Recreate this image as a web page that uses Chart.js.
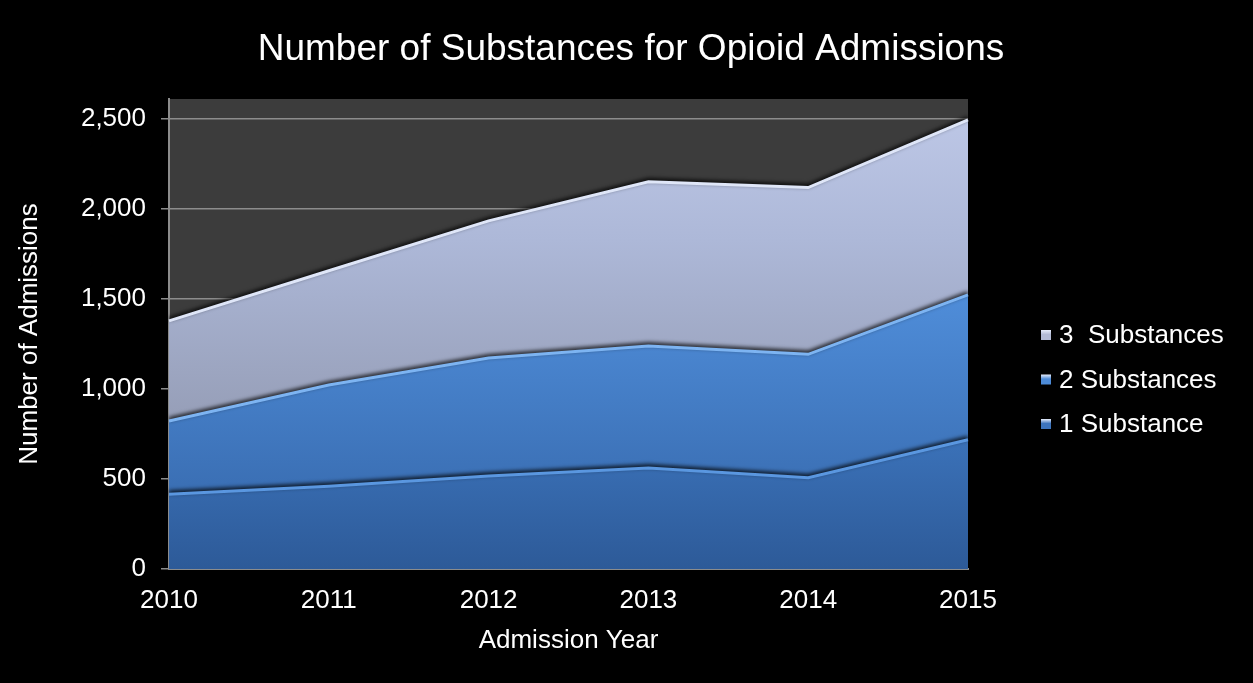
<!DOCTYPE html>
<html>
<head>
<meta charset="utf-8">
<title>Number of Substances for Opioid Admissions</title>
<script src="https://cdn.jsdelivr.net/npm/chart.js@4/dist/chart.umd.min.js"></script>
<style>
  html, body { margin: 0; padding: 0; background: #000; }
  canvas { display: block; }
</style>
</head>
<body>
<canvas id="admissionsChart" width="1253" height="683"></canvas>
<script>
const years = ['2010', '2011', '2012', '2013', '2014', '2015'];
const oneSubstance = [415, 460, 517, 561, 507, 718];
const twoSubstances = [407, 562, 655, 678, 685, 804];
const threeSubstances = [556, 634, 761, 911, 926, 972];
const yTicks = [0, 500, 1000, 1500, 2000, 2500];

const FONT = '"Liberation Sans", Arial, sans-serif';

// vertical fill gradient over the plot area
function areaGradient(stops) {
    return function (context) {
        const area = context.chart.chartArea;
        if (!area) return stops[0][1];
        const g = context.chart.ctx.createLinearGradient(0, area.top, 0, area.bottom);
        stops.forEach(s => g.addColorStop(s[0], s[1]));
        return g;
    };
}

// dark gray plot background on a black page
const plotBackground = {
    id: 'plotBackground',
    beforeDraw(chart) {
        const { ctx, chartArea: a } = chart;
        ctx.save();
        ctx.fillStyle = '#000';
        ctx.fillRect(0, 0, chart.width, chart.height);
        ctx.fillStyle = '#3c3c3c';
        ctx.fillRect(a.left, a.top, a.right - a.left, a.bottom - a.top);
        ctx.restore();
    }
};

// soft shadow above each area edge for the bevelled look
const bevelShadow = {
    id: 'bevelShadow',
    beforeDatasetsDraw(chart) {
        const ctx = chart.ctx;
        ctx.save();
        ctx.shadowColor = 'rgba(0,0,0,0.75)';
        ctx.shadowBlur = 4;
        ctx.shadowOffsetY = -2;
    },
    afterDatasetsDraw(chart) {
        chart.ctx.restore();
    }
};

// title and legend placed on the canvas
const legendSwatches = ['#3d74bd', '#4d8bd8', '#b3bbd6'];
const titleAndLegend = {
    id: 'titleAndLegend',
    afterDraw(chart) {
        const ctx = chart.ctx;
        ctx.save();
        ctx.fillStyle = '#fff';
        ctx.textAlign = 'center';
        ctx.textBaseline = 'middle';
        ctx.font = '37px ' + FONT;
        ctx.fillText('Number of Substances for Opioid Admissions', 631, 50);

        ctx.font = '26px ' + FONT;
        ctx.textAlign = 'left';
        const sets = chart.data.datasets.map((ds, i) => ({ label: ds.label, color: legendSwatches[i] })).reverse();
        sets.forEach((item, k) => {
            const y = 335 + k * 44.5;
            const g = ctx.createLinearGradient(0, y - 5, 0, y + 5);
            g.addColorStop(0, '#e8eefc');
            g.addColorStop(0.45, item.color);
            g.addColorStop(1, item.color);
            ctx.fillStyle = g;
            ctx.fillRect(1041, y - 5, 10, 10);
            ctx.fillStyle = '#fff';
            ctx.fillText(item.label, 1059, y + 1);
        });
        ctx.restore();
    }
};

const ctx = document.getElementById('admissionsChart').getContext('2d');

new Chart(ctx, {
    type: 'line',
    data: {
        labels: years,
        datasets: [{
            label: '1 Substance',
            data: oneSubstance,
            fill: 'origin',
            backgroundColor: areaGradient([[0, '#4a82cc'], [0.72, '#3b72b9'], [1, '#2d5a98']]),
            borderColor: '#5a97e0',
            borderWidth: 3
        }, {
            label: '2 Substances',
            data: twoSubstances,
            fill: '-1',
            backgroundColor: areaGradient([[0, '#5a98e4'], [0.42, '#4f8dd9'], [0.9, '#376aae'], [1, '#33639f']]),
            borderColor: '#7db4f2',
            borderWidth: 3
        }, {
            label: '3  Substances',
            data: threeSubstances,
            fill: '-1',
            backgroundColor: areaGradient([[0, '#bfc9e8'], [0.3, '#adb8d8'], [0.7, '#959db6'], [1, '#8c93a8']]),
            borderColor: '#dfe6f8',
            borderWidth: 3
        }]
    },
    options: {
        responsive: false,
        animation: false,
        layout: {
            padding: { top: 99, left: 10, right: 285, bottom: 23 }
        },
        elements: {
            point: { radius: 0, hoverRadius: 0 },
            line: { tension: 0 }
        },
        plugins: {
            legend: { display: false },
            title: { display: false },
            tooltip: { enabled: false }
        },
        scales: {
            x: {
                z: 1,
                offset: false,
                afterFit(scale) { scale.height = 91; },
                grid: { display: false, drawTicks: false },
                border: { display: true, color: '#8c8c8c', width: 2 },
                ticks: {
                    color: '#fff',
                    padding: 16,
                    maxRotation: 0,
                    font: { family: FONT, size: 26 }
                },
                title: {
                    display: true,
                    text: 'Admission Year',
                    color: '#fff',
                    font: { family: FONT, size: 26 }
                }
            },
            y: {
                stacked: true,
                min: 0,
                max: 2610,
                afterFit(scale) { scale.width = 159; },
                afterBuildTicks(scale) {
                    scale.ticks = yTicks.map(v => ({ value: v }));
                },
                grid: {
                    color: '#8c8c8c',
                    lineWidth: 1.5,
                    drawTicks: true,
                    tickLength: 8
                },
                border: { display: true, color: '#8c8c8c', width: 2 },
                ticks: {
                    color: '#fff',
                    padding: 15,
                    font: { family: FONT, size: 26 },
                    callback: v => v.toLocaleString('en-US')
                },
                title: {
                    display: true,
                    text: 'Number of Admissions',
                    color: '#fff',
                    font: { family: FONT, size: 26 }
                }
            }
        }
    },
    plugins: [plotBackground, bevelShadow, titleAndLegend]
});
</script>
</body>
</html>
